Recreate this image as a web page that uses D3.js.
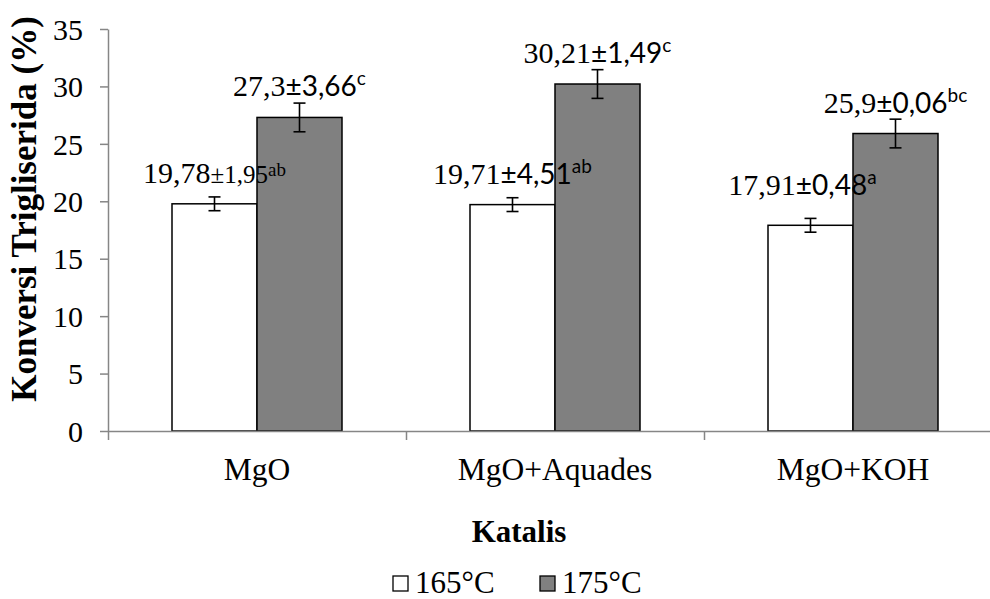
<!DOCTYPE html>
<html lang="id">
<head>
<meta charset="UTF-8">
<title>Konversi Trigliserida</title>
<script src="https://d3js.org/d3.v7.min.js"></script>
<style>
    html, body { margin: 0; padding: 0; background: #fff; }
    svg { display: block; }
</style>
</head>
<body>
<div id="chart"></div>
<script>

// data
var categories = ["MgO", "MgO+Aquades", "MgO+KOH"];
var seriesNames = ["165\u00B0C", "175\u00B0C"];
var values165 = [19.78, 19.71, 17.91];
var values175 = [27.3, 30.21, 25.9];
var err165 = [0.6, 0.6, 0.6];
var err175 = [1.25, 1.25, 1.25];
var sd165 = ["1,95", "4,51", "0,48"];
var sd175 = ["3,66", "1,49", "0,06"];
var letters165 = ["ab", "ab", "a"];
var letters175 = ["c", "c", "bc"];
var yTicks = [0, 5, 10, 15, 20, 25, 30, 35];

var W = 990, H = 599;
var serif = "Liberation Serif, serif";
var sans = "Lato, sans-serif";
var axisColor = "#868686";

var svg = d3.select("#chart").append("svg")
    .attr("width", W)
    .attr("height", H);

var x0 = d3.scaleBand()
    .domain(categories)
    .range([108, 1002])
    .padding(0);

var x1 = d3.scaleBand()
    .domain(seriesNames)
    .range([0, x0.bandwidth()])
    .paddingInner(0)
    .paddingOuter(0.753);

var y = d3.scaleLinear()
    .domain([0, 35])
    .range([431, 29]);

// build rows for drawing
var rows = [];
categories.forEach(function(c, i) {
    rows.push({cat: c, s: seriesNames[0], v: values165[i], e: err165[i], sd: sd165[i], sup: letters165[i], fill: "#ffffff", idx: i, ser: 0});
    rows.push({cat: c, s: seriesNames[1], v: values175[i], e: err175[i], sd: sd175[i], sup: letters175[i], fill: "#808080", idx: i, ser: 1});
});

// y axis
var yAxis = svg.append("g")
    .attr("transform", "translate(108,0)")
    .call(d3.axisLeft(y).tickValues(yTicks).tickSize(8).tickPadding(17).tickSizeOuter(0));
yAxis.attr("font-family", serif).attr("font-size", 30);
yAxis.select(".domain").attr("stroke", axisColor).attr("stroke-width", 1.5);
yAxis.selectAll(".tick line").attr("stroke", axisColor).attr("stroke-width", 1.5);
yAxis.selectAll(".tick text")
    .attr("fill", "#000")
    .attr("dy", "0.34em");

// bars
svg.selectAll(".bar")
    .data(rows)
    .enter()
    .append("rect")
    .attr("class", "bar")
    .attr("x", function(d) { return x0(d.cat) + x1(d.s); })
    .attr("y", function(d) { return y(d.v); })
    .attr("width", x1.bandwidth())
    .attr("height", function(d) { return y(0) - y(d.v); })
    .attr("fill", function(d) { return d.fill; })
    .attr("stroke", "#000")
    .attr("stroke-width", 1.5);

// x axis line + boundary ticks
var xb = d3.scaleLinear().domain([0, categories.length]).range([108, 1002]);
var xAxis = svg.append("g")
    .attr("transform", "translate(0,431)")
    .call(d3.axisBottom(xb).tickValues(d3.range(categories.length + 1)).tickFormat("").tickSize(9).tickSizeOuter(0));
xAxis.select(".domain").attr("stroke", axisColor).attr("stroke-width", 1.5);
xAxis.selectAll(".tick line").attr("stroke", axisColor).attr("stroke-width", 1.5);

// category labels
var xLab = svg.append("g")
    .attr("transform", "translate(0,431)")
    .call(d3.axisBottom(x0).tickSize(0).tickPadding(27));
xLab.attr("font-family", serif).attr("font-size", 31.5);
xLab.select(".domain").remove();
xLab.selectAll(".tick text").attr("fill", "#000");

// error bars
var eb = svg.selectAll(".err")
    .data(rows)
    .enter()
    .append("g")
    .attr("class", "err")
    .attr("stroke", "#000")
    .attr("stroke-width", 1.6);
function cx(d) { return x0(d.cat) + x1(d.s) + x1.bandwidth() / 2; }
eb.append("line")
    .attr("x1", cx).attr("x2", cx)
    .attr("y1", function(d) { return y(d.v + d.e); })
    .attr("y2", function(d) { return y(d.v - d.e); });
eb.append("line")
    .attr("x1", function(d) { return cx(d) - 6; }).attr("x2", function(d) { return cx(d) + 6; })
    .attr("y1", function(d) { return y(d.v + d.e); })
    .attr("y2", function(d) { return y(d.v + d.e); });
eb.append("line")
    .attr("x1", function(d) { return cx(d) - 6; }).attr("x2", function(d) { return cx(d) + 6; })
    .attr("y1", function(d) { return y(d.v - d.e); })
    .attr("y2", function(d) { return y(d.v - d.e); });

// data labels (the first one was typed in Times in the original, the rest in Calibri)
var labelShift = {"2-0": [-8, -9]};
function isFirst(d) { return d.idx === 0 && d.ser === 0; }
var lab = svg.selectAll(".lab")
    .data(rows)
    .enter()
    .append("text")
    .attr("class", "lab")
    .attr("text-anchor", "middle")
    .attr("x", function(d) {
        var s = labelShift[d.idx + "-" + d.ser];
        return cx(d) + (s ? s[0] : 0);
    })
    .attr("y", function(d) {
        var s = labelShift[d.idx + "-" + d.ser];
        return y(d.v) - 21 + (s ? s[1] : 0);
    })
    .attr("fill", "#000");
lab.append("tspan")
    .attr("font-family", serif)
    .attr("font-size", 30)
    .text(function(d) { return String(d.v).replace(".", ","); });
lab.append("tspan")
    .attr("font-family", function(d) { return isFirst(d) ? serif : sans; })
    .attr("font-size", function(d) { return isFirst(d) ? 25 : 28; })
    .text(function(d) { return "\u00B1" + d.sd; });
lab.append("tspan")
    .attr("font-family", function(d) { return isFirst(d) ? serif : sans; })
    .attr("font-size", 19)
    .attr("dy", function(d) { return isFirst(d) ? -7 : -11; })
    .text(function(d) { return d.sup; });

// axis titles
svg.append("text")
    .attr("transform", "translate(36,209) rotate(-90)")
    .attr("text-anchor", "middle")
    .attr("font-family", serif)
    .attr("font-size", 35)
    .attr("font-weight", "bold")
    .text("Konversi Trigliserida (%)");

svg.append("text")
    .attr("x", 519)
    .attr("y", 542)
    .attr("text-anchor", "middle")
    .attr("font-family", serif)
    .attr("font-size", 31)
    .attr("font-weight", "bold")
    .text("Katalis");

// legend
var legendX = [393, 540];
var legendFill = ["#ffffff", "#808080"];
var leg = svg.selectAll(".leg")
    .data(seriesNames)
    .enter()
    .append("g")
    .attr("class", "leg")
    .attr("transform", function(d, i) { return "translate(" + legendX[i] + ",0)"; });
leg.append("rect")
    .attr("x", 0)
    .attr("y", 576)
    .attr("width", 15)
    .attr("height", 15)
    .attr("fill", function(d, i) { return legendFill[i]; })
    .attr("stroke", "#000")
    .attr("stroke-width", 1.3);
leg.append("text")
    .attr("x", 22)
    .attr("y", 593)
    .attr("font-family", serif)
    .attr("font-size", 31)
    .text(function(d) { return d; });

</script>
</body>
</html>
